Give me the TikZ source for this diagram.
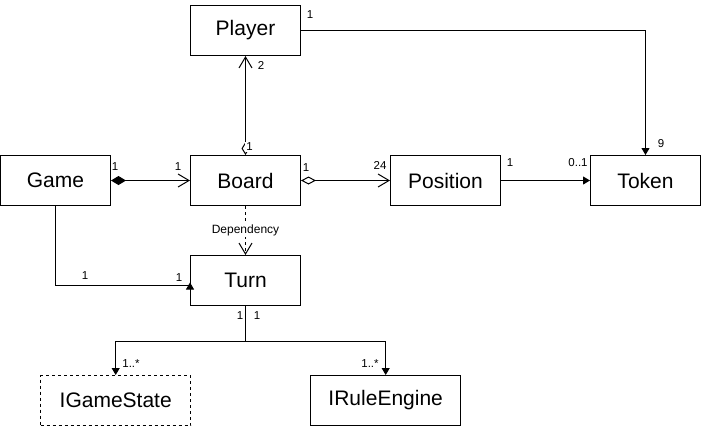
\documentclass[tikz,border=0pt]{standalone}
\usepackage{fontspec}
\setmainfont{Liberation Sans}
\usepackage{tikz}
\usetikzlibrary{shapes,arrows.meta,positioning}
\tikzstyle{class} = [rectangle, minimum width=110pt, minimum height=50pt, inner sep=0pt, text centered, draw=black, line width=1pt, font=\fontsize{21}{25}\selectfont]
\tikzstyle{iface} = [class, minimum width=150pt, dash pattern=on 3pt off 3pt]
\tikzstyle{mult} = [inner sep=1pt, fill=white, font=\fontsize{11.5}{13}\selectfont]
\tikzstyle{arrow} = [line width=1pt, -{Triangle[length=7pt,width=8pt]}]
\tikzstyle{navigate} = [line width=1pt, -{Straight Barb[length=11pt,width=13pt]}]
\tikzstyle{compose} = [line width=1pt, {Diamond[length=15pt,width=9pt]}-{Straight Barb[length=11pt,width=13pt]}]
\tikzstyle{aggregate} = [line width=1pt, {Diamond[open,length=15pt,width=8pt]}-{Straight Barb[length=11pt,width=13pt]}]

\begin{document}
\begin{tikzpicture}[x=1pt, y=-1pt]
  \useasboundingbox (0,0) rectangle (701,426);
  % classes
  \node[class] (game) at (55.5,180.5) {Game};
  \node[class, right=79pt of game] (board) {Board};
  \node[class, right=89pt of board] (position) {Position};
  \node[class, right=89pt of position] (token) {Token};
  \node[class, above=99pt of board] (player) {Player};
  \node[class, below=49pt of board] (turn) {Turn};
  \node[iface] (gamestate) at (115.7,400.5) {IGameState};
  \node[class, minimum width=150pt] (ruleengine) at (385.7,400.5) {IRuleEngine};
  \coordinate (split) at ([yshift=-35pt]turn.south);

  % connectors
  \draw[arrow] (player.east) -| (token.north);
  \draw[line width=1pt, {Diamond[open,length=13pt,width=8pt]}-{Straight Barb[length=11pt,width=13pt]}] (board.north) -- (player.south);
  \draw[compose] (game.east) -- (board.west);
  \draw[aggregate] (board.east) -- (position.west);
  \draw[arrow] (position.east) -- (token.west);
  \draw[navigate, dash pattern=on 3pt off 3pt] (board.south) -- node[mult, font=\fontsize{12}{14}\selectfont](dep){Dependency} (turn.north);
  \draw[arrow] (game.south) |- ([yshift=-5pt]turn.west) -- ([yshift=-2pt]turn.west);
  \draw[arrow] (turn.south) -- (split) -| (gamestate.north);
  \draw[arrow] (split) -| (ruleengine.north);

  % multiplicities
  \node[mult] (pl1) at (310,15) {1};
  \node[mult] (tk9) at (661,144) {9};
  \node[mult] (pl2) at (261,65) {2};
  \node[mult] (bd1) at (249.5,147) {1};
  \node[mult] (gm1) at (115,167) {1};
  \node[mult] (bg1) at (178,167) {1};
  \node[mult] (bp1) at (306,168) {1};
  \node[mult] (ps24) at (380,165) {24};
  \node[mult] (pt1) at (510,163) {1};
  \node[mult] (tk01) at (578,163) {0..1};
  \node[mult] (gt1) at (85,276) {1};
  \node[mult] (tg1) at (179,278) {1};
  \node[mult] (ts1) at (240,316) {1};
  \node[mult] (ts2) at (257,316) {1};
  \node[mult] (gs1) at (131,364) {1..*};
  \node[mult] (re1) at (370,364) {1..*};
\end{tikzpicture}
\end{document}
